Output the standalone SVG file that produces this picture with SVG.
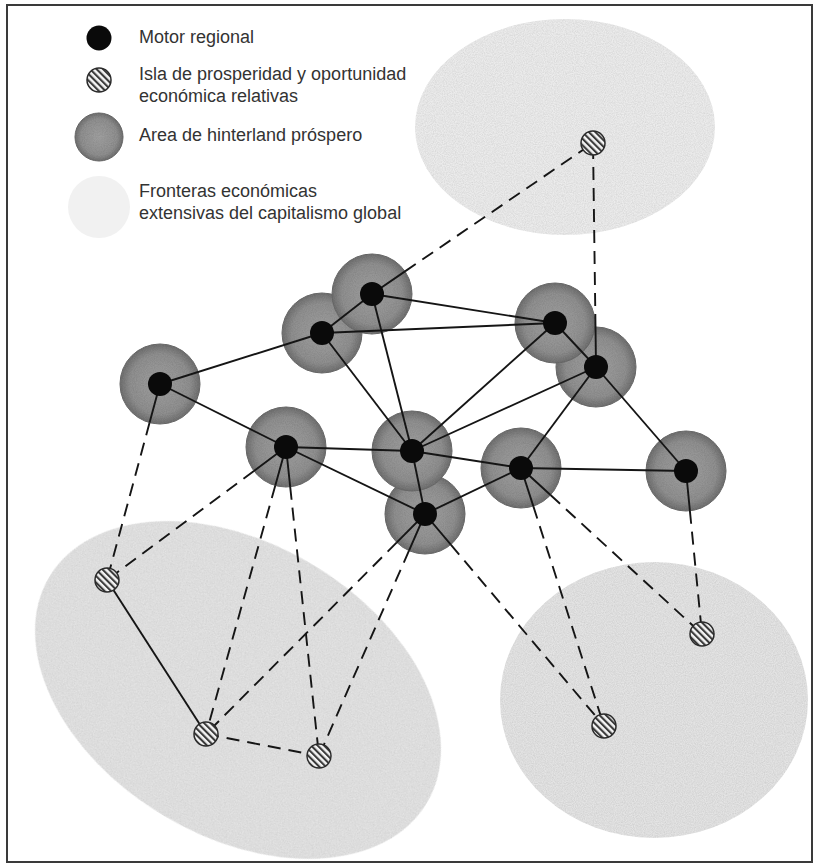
<svg xmlns="http://www.w3.org/2000/svg" width="815" height="866" viewBox="0 0 815 866">
<defs>
<pattern id="hatch" patternUnits="userSpaceOnUse" width="4.6" height="4.6" patternTransform="rotate(-45)">
<rect width="4.6" height="4.6" fill="#f4f4f4"/>
<rect width="2.1" height="4.6" fill="#3a3a3a"/>
</pattern>
<radialGradient id="hint" cx="0.5" cy="0.5" r="0.5">
<stop offset="0" stop-color="#a0a0a0"/>
<stop offset="0.75" stop-color="#909090"/>
<stop offset="1" stop-color="#707070"/>
</radialGradient>
<filter id="grain" x="-10%" y="-10%" width="120%" height="120%">
<feTurbulence type="fractalNoise" baseFrequency="0.9" numOctaves="2" seed="3" result="n"/>
<feColorMatrix in="n" type="matrix" values="0 0 0 0 0  0 0 0 0 0  0 0 0 0 0  0 0 0 0.3 -0.08" result="na"/>
<feComposite in="na" in2="SourceGraphic" operator="in" result="nc"/>
<feMerge><feMergeNode in="SourceGraphic"/><feMergeNode in="nc"/></feMerge>
</filter>
</defs>
<style>
.frontier{fill:#e4e4e4;filter:url(#grain)}
.hinter{fill:url(#hint);stroke:#6a6a6a;stroke-width:1;filter:url(#grain)}
.motor{fill:#0a0a0a}
.island{fill:url(#hatch);stroke:#2a2a2a;stroke-width:1.5}
.solid{stroke:#151515;stroke-width:1.9;fill:none}
.dash{stroke:#151515;stroke-width:1.9;fill:none;stroke-dasharray:13 8}
.lbl{font-family:"Liberation Sans",Arial,sans-serif;font-size:18px;fill:#333333}
</style>
<rect x="0" y="0" width="815" height="866" fill="#ffffff"/>
<rect x="7" y="5" width="805" height="857" fill="none" stroke="#3a3a3a" stroke-width="2"/>

<g id="frontiers">
<ellipse id="frontier-top" class="frontier" cx="565" cy="127" rx="150" ry="108" style="fill:#ececec"/>
<ellipse id="frontier-left" class="frontier" cx="238" cy="690" rx="220" ry="146" transform="rotate(31 238 690)"/>
<ellipse id="frontier-right" class="frontier" cx="654" cy="700" rx="154" ry="138"/>
</g>

<g id="legend">
<circle class="motor" cx="99" cy="38" r="12.5"/>
<circle class="island" cx="99" cy="80" r="12"/>
<circle class="hinter" cx="99" cy="137" r="24"/>
<circle cx="99" cy="207" r="31" fill="#f1f1f1"/>
<text class="lbl" x="139" y="43">Motor regional</text>
<text class="lbl" x="139" y="80">Isla de prosperidad y oportunidad</text>
<text class="lbl" x="139" y="102">económica relativas</text>
<text class="lbl" x="139" y="141">Area de hinterland próspero</text>
<text class="lbl" x="139" y="197">Fronteras económicas</text>
<text class="lbl" x="139" y="219">extensivas del capitalismo global</text>
</g>

<g id="hinterlands">
<circle class="hinter" cx="322" cy="333" r="40"/>
<circle class="hinter" cx="372" cy="294" r="40"/>
<circle class="hinter" cx="160" cy="384" r="40"/>
<circle class="hinter" cx="286" cy="447" r="40"/>
<circle class="hinter" cx="425" cy="514" r="40"/>
<circle class="hinter" cx="412" cy="451" r="40"/>
<circle class="hinter" cx="596" cy="367" r="40"/>
<circle class="hinter" cx="555" cy="323" r="40"/>
<circle class="hinter" cx="521" cy="468" r="40"/>
<circle class="hinter" cx="686" cy="471" r="40"/>
</g>

<g id="connectors">
<line class="solid" x1="372" y1="294" x2="322" y2="333"/>
<line class="solid" x1="372" y1="294" x2="555" y2="323"/>
<line class="solid" x1="372" y1="294" x2="412" y2="451"/>
<line class="solid" x1="322" y1="333" x2="555" y2="323"/>
<line class="solid" x1="322" y1="333" x2="160" y2="384"/>
<line class="solid" x1="322" y1="333" x2="412" y2="451"/>
<line class="solid" x1="160" y1="384" x2="286" y2="447"/>
<line class="solid" x1="286" y1="447" x2="412" y2="451"/>
<line class="solid" x1="286" y1="447" x2="425" y2="514"/>
<line class="solid" x1="412" y1="451" x2="425" y2="514"/>
<line class="solid" x1="412" y1="451" x2="555" y2="323"/>
<line class="solid" x1="412" y1="451" x2="596" y2="367"/>
<line class="solid" x1="412" y1="451" x2="521" y2="468"/>
<line class="solid" x1="425" y1="514" x2="521" y2="468"/>
<line class="solid" x1="555" y1="323" x2="596" y2="367"/>
<line class="solid" x1="596" y1="367" x2="521" y2="468"/>
<line class="solid" x1="596" y1="367" x2="686" y2="471"/>
<line class="solid" x1="521" y1="468" x2="686" y2="471"/>
<line class="solid" x1="107" y1="580" x2="206" y2="734"/>

<path class="solid" d="M372 294L405 271.4M596 367L595.5 327M160 384L149.6 422.6M286 447L253.9 470.9M286 447L275.3 485.5M286 447L290.2 486.8M425 514L396.8 542.4M425 514L409 550.6M425 514L450.8 544.6M521 468L533.3 506.1M521 468L550.5 495M686 471L689.9 510.8"/>
<line class="dash" x1="405" y1="271.4" x2="593" y2="143"/>
<line class="dash" x1="595.5" y1="327" x2="593" y2="143"/>
<line class="dash" x1="149.6" y1="422.6" x2="107" y2="580"/>
<line class="dash" x1="253.9" y1="470.9" x2="107" y2="580"/>
<line class="dash" x1="275.3" y1="485.5" x2="206" y2="734"/>
<line class="dash" x1="290.2" y1="486.8" x2="319" y2="756"/>
<line class="dash" x1="396.8" y1="542.4" x2="206" y2="734"/>
<line class="dash" x1="409" y1="550.6" x2="319" y2="756"/>
<line class="dash" x1="450.8" y1="544.6" x2="604" y2="726"/>
<line class="dash" x1="533.3" y1="506.1" x2="604" y2="726"/>
<line class="dash" x1="550.5" y1="495" x2="702" y2="634"/>
<line class="dash" x1="689.9" y1="510.8" x2="702" y2="634"/>
<line class="dash" x1="206" y1="734" x2="319" y2="756"/>
</g>

<g id="motors">
<circle id="motor-a" class="motor" cx="372" cy="294" r="12"/>
<circle id="motor-b" class="motor" cx="322" cy="333" r="12"/>
<circle id="motor-c" class="motor" cx="160" cy="384" r="12"/>
<circle id="motor-d" class="motor" cx="286" cy="447" r="12"/>
<circle id="motor-e" class="motor" cx="412" cy="451" r="12"/>
<circle id="motor-f" class="motor" cx="425" cy="514" r="12"/>
<circle id="motor-g" class="motor" cx="555" cy="323" r="12"/>
<circle id="motor-h" class="motor" cx="596" cy="367" r="12"/>
<circle id="motor-i" class="motor" cx="521" cy="468" r="12"/>
<circle id="motor-j" class="motor" cx="686" cy="471" r="12"/>
</g>

<g id="islands">
<circle id="island-1" class="island" cx="593" cy="143" r="12"/>
<circle id="island-2" class="island" cx="107" cy="580" r="12"/>
<circle id="island-3" class="island" cx="206" cy="734" r="12"/>
<circle id="island-4" class="island" cx="319" cy="756" r="12"/>
<circle id="island-5" class="island" cx="702" cy="634" r="12"/>
<circle id="island-6" class="island" cx="604" cy="726" r="12"/>
</g>
</svg>
